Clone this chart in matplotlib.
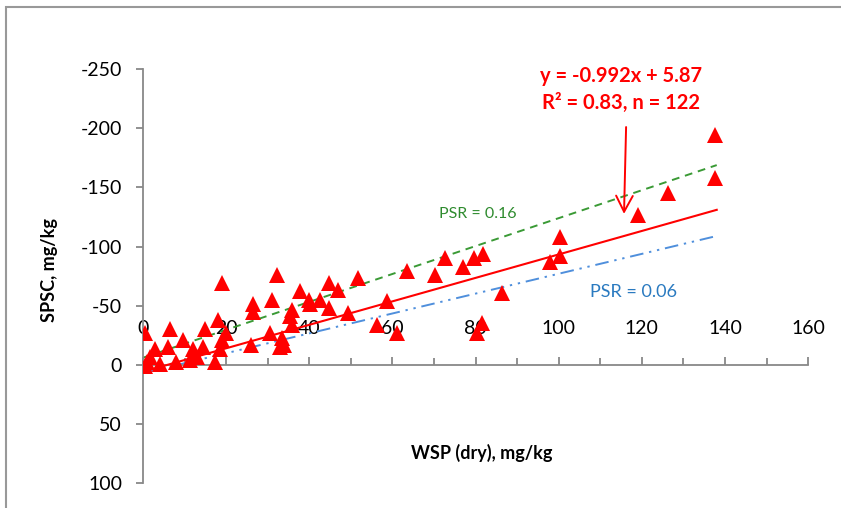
import matplotlib.pyplot as plt
from matplotlib.patches import Rectangle

plt.rcParams['font.family'] = ['Lato', 'DejaVu Sans']
plt.rcParams['axes.unicode_minus'] = False

# WSP (dry) vs SPSC, mg/kg
wsp = [0.5, 6.5, 19, 32.2, 26.4, 26.4, 31, 18, 15, 9.6, 6, 2.9, 0.9, 1.7,
       12, 11.3, 8, 17.3, 14.5, 19, 20, 18.5, 26, 30.5, 33.4, 33, 13,
       0.5, 4, 37.8, 40, 44.8, 47, 51.8, 42.6, 44.8, 49.4, 35.8, 35.4,
       35.8, 33.8, 40.2, 58.6, 56.2, 61, 63.4, 70.3, 72.7, 77, 79.5, 81.9,
       86.3, 81.5, 80.3, 100.3, 100.3, 98, 137.6, 137.6, 126.2, 119]
spsc = [-27, -30, -69, -76, -51, -45, -55, -38, -30, -21, -15, -13, -2, -7,
        -13, -4, -2, -2, -15, -21, -27, -13, -17, -27, -23, -15, -7,
        1, -1, -62, -55, -69, -63, -73, -55, -48, -44, -46, -41,
        -34, -17, -51, -54, -34, -27, -79, -76, -90, -83, -90, -94,
        -61, -35, -27, -108, -92, -87, -194, -158, -145, -127]

# regression line and the two PSR reference lines
fit_slope, fit_intercept = -0.992, 5.87
psr_high_slope, psr_high_intercept = -1.18, -6
psr_low_slope, psr_low_intercept = -0.84, 7
line_x = [0, 138]

fig = plt.figure(figsize=(8.41, 5.08), dpi=100)
ax = fig.add_axes([0.170, 0.049, 0.791, 0.815])

ax.plot(line_x, [psr_high_slope * x + psr_high_intercept for x in line_x],
        color='#3a9a35', lw=1.4, linestyle=(0, (4, 3)), zorder=2)
ax.plot(line_x, [psr_low_slope * x + psr_low_intercept for x in line_x],
        color='#4f8fdc', lw=1.4, linestyle=(0, (7, 3, 1.2, 3, 1.2, 3)), zorder=2)
ax.plot(line_x, [fit_slope * x + fit_intercept for x in line_x],
        color='#ff0000', lw=1.5, zorder=3)

ax.plot(wsp, spsc, linestyle='none', marker='^', markersize=12,
        color='#ff0000', markeredgewidth=0, zorder=4)

ax.set_xlim(0, 160)
ax.set_ylim(100, -250)
ax.set_xticks(range(0, 161, 20))
ax.set_xticks(range(0, 161, 10), minor=True)
ax.set_yticks(range(-250, 101, 50))

for side in ['top', 'right']:
    ax.spines[side].set_visible(False)
ax.spines['bottom'].set_position(('data', 0))
for side in ['left', 'bottom']:
    ax.spines[side].set_color('#888888')
    ax.spines[side].set_linewidth(1.3)

ax.tick_params(axis='x', which='both', direction='in', length=6,
               color='#888888', width=1.3, labelsize=14, pad=-32)
ax.tick_params(axis='x', which='minor', length=5)
ax.tick_params(axis='y', direction='out', length=5, color='#888888',
               width=1.3, labelsize=14, pad=10)

red = '#ff0000'
ax.text(115, -244, 'y = -0.992x + 5.87', color=red, fontsize=14.5,
        fontweight='bold', ha='center', va='center')
ax.text(115, -221, 'R² = 0.83, n = 122', color=red, fontsize=14.5,
        fontweight='bold', ha='center', va='center')
ax.annotate('', xy=(115.7, -127.6), xytext=(116.2, -201),
            arrowprops=dict(arrowstyle='->,head_length=1.15,head_width=0.6',
                            mutation_scale=10, color=red, lw=1.4,
                            shrinkA=0, shrinkB=0))

ax.text(80.6, -127.6, 'PSR = 0.16', color='#2e8b2e', fontsize=11.5,
        ha='center', va='center')
ax.text(118.1, -61.7, 'PSR = 0.06', color='#2a7ac0', fontsize=13,
        ha='center', va='center')

fig.text(50 / 841, 1 - 270 / 508, 'SPSC, mg/kg', rotation=90, fontsize=13,
         fontweight='bold', ha='center', va='center')
fig.text(482 / 841, 1 - 453 / 508, 'WSP (dry), mg/kg', fontsize=13,
         fontweight='bold', ha='center', va='center')

# chart area border
fig.patches.append(Rectangle((6 / 841, -0.1), 1.1, 1.1 - 7 / 508,
                             transform=fig.transFigure, fill=False,
                             edgecolor='#999999', linewidth=1.5))

fig.savefig('out.png', dpi=100)
